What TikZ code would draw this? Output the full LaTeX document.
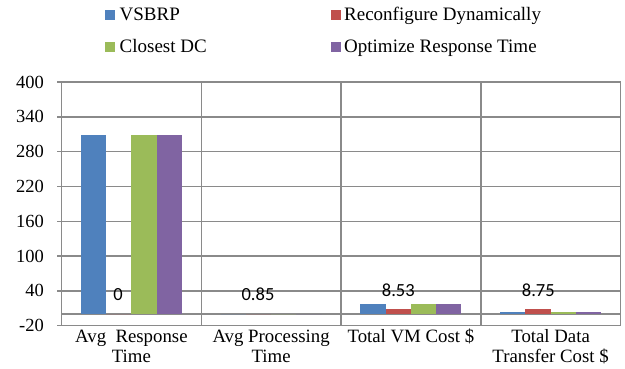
\documentclass[tikz,border=0pt]{standalone}
\usepackage{fontspec}
\setmainfont{Liberation Serif}
\newfontfamily\calibfont{Carlito}
\definecolor{cblue}{HTML}{4F81BD}
\definecolor{cred}{HTML}{C0504D}
\definecolor{cgreen}{HTML}{9BBB59}
\definecolor{cpurple}{HTML}{8064A2}
\definecolor{gridgray}{HTML}{8A8A8A}
\begin{document}
\begin{tikzpicture}[x=1pt,y=1pt,
  gridline/.style={draw=gridgray, line width=1.5pt},
  ticklabel/.style={anchor=east, inner sep=0pt, font=\fontsize{18.5}{20}\selectfont},
  catlabel/.style={anchor=base, inner sep=0pt, align=center, font=\fontsize{18.8}{20.3}\selectfont},
  legtext/.style={anchor=base west, inner sep=0pt, font=\fontsize{19}{21}\selectfont},
  datalabel/.style={anchor=center, inner sep=0pt, font=\calibfont\fontsize{18.5}{20}\selectfont}]
\useasboundingbox (0,0) rectangle (625,369);
% legend
\fill[cblue] (105,349) rectangle (115,359);
\node[legtext] (lvsbrp) at (119.5,348.3) {VSBRP};
\fill[cred] (330.5,349) rectangle (340.5,359);
\node[legtext] (lrec) at (344,348.3) {Reconfigure Dynamically};
\fill[cgreen] (105,317.3) rectangle (115,327.3);
\node[legtext] (lclo) at (119.5,316.5) {Closest DC};
\fill[cpurple] (330.5,317.3) rectangle (340.5,327.3);
\node[legtext] (lopt) at (344,316.5) {Optimize Response Time};
% plot
\begin{scope}[yshift=54.9pt, y=0.58pt]
  \foreach \v in {-20,40,...,400} {
    \draw[gridline] (57,\v) -- (620.5,\v);
    \node[ticklabel] (t\v) at (44,\v) {\v};
  }
  \draw[gridline] (61.5,0) -- (620.5,0);
  \foreach \k in {0,...,4}
    \draw[gridline] ({61.5+139.75*\k},-20) -- ({61.5+139.75*\k},400);
  % bars: category k, series s
  \foreach \k/\a/\b/\c/\d in {0/308.8/0/308.8/308.8, 1/0/0/0/0, 2/17.3/8.53/17.3/17.3, 3/3.6/8.75/2.9/2.9} {
    \pgfmathsetmacro{\xs}{61.5+139.75*\k+19.4}
    \fill[cblue]   (\xs,0) rectangle ++(25.25,\a);
    \fill[cred]    ({\xs+25.25},0) rectangle ++(25.25,\b);
    \fill[cgreen]  ({\xs+50.5},0) rectangle ++(25.25,\c);
    \fill[cpurple] ({\xs+75.75},0) rectangle ++(25.25,\d);
  }
\end{scope}
% data labels
\node[datalabel] (d1) at (118,74) {0};
\node[datalabel] (d2) at (258,75) {0.85};
\node[datalabel] (d3) at (398.3,79) {8.53};
\node[datalabel] (d4) at (538.3,79) {8.75};
% category labels (base = baseline of the last line)
\node[catlabel] (c1) at (131.4,6) {Avg\ \ Response\\Time};
\node[catlabel] (c2) at (271.1,6) {Avg Processing\\Time};
\node[catlabel] (c3) at (410.9,26.3) {Total VM Cost \$};
\node[catlabel] (c4) at (550.6,6) {Total Data\\Transfer Cost \$};
\end{tikzpicture}
\end{document}
